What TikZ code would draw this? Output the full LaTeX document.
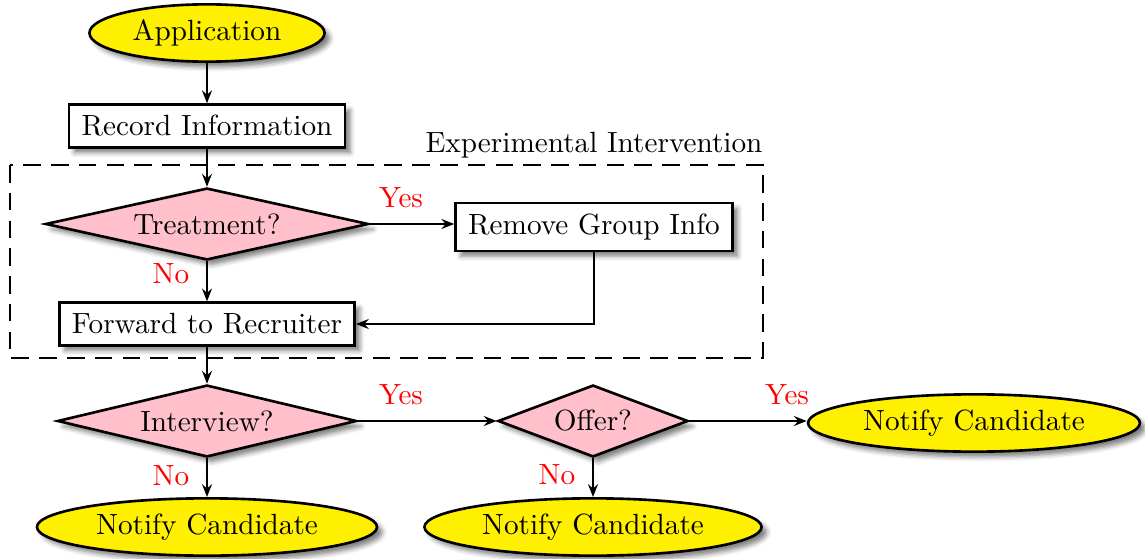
\documentclass[tikz,border=0pt]{standalone}
\usetikzlibrary{shapes.geometric,arrows.meta,shadows.blur}
\definecolor{pinkfill}{RGB}{255,192,203}
\definecolor{yellowfill}{RGB}{255,240,0}
\begin{document}
\begin{tikzpicture}[x=0.342pt,y=-0.342pt,
  shd/.style={blur shadow={shadow xshift=1.8pt,shadow yshift=-1.8pt,shadow blur radius=1.6pt,shadow opacity=50}},
  term/.style={ellipse,draw,line width=0.9pt,fill=yellowfill,inner sep=0pt,minimum height=19.6pt,shd},
  proc/.style={rectangle,draw,line width=0.9pt,fill=white,inner xsep=4.3pt,inner ysep=3.7pt,shd},
  dec/.style={diamond,draw,line width=0.9pt,fill=pinkfill,inner sep=1pt,minimum height=24.6pt,shd},
  conn/.style={line width=0.75pt,-{Stealth[length=4.4pt,width=3.4pt,inset=1.5pt]}},
  lbl/.style={text=red,inner sep=0pt},
  ebox/.style={line width=0.75pt,dash pattern=on 6pt off 3.5pt}]
\useasboundingbox (0,0) rectangle (1145,559);
\node[term,minimum width=80.4pt] (app) at (207,33) {Application};
\node[proc] (rec) at (207,126) {Record Information};
\node[dec,aspect=4.5,minimum width=110.5pt] (treat) at (207,224) {Treatment?};
\node[proc] (rem) at (594,227) {Remove Group Info};
\node[proc] (fwd) at (207,324) {Forward to Recruiter};
\node[dec,aspect=4.1,minimum width=102.3pt] (intv) at (207,421) {Interview?};
\node[dec,aspect=2.6,minimum width=65pt] (offer) at (593,421) {Offer?};
\node[term,minimum width=113.5pt] (nc3) at (974,423) {Notify Candidate};
\node[term,minimum width=116.3pt] (nc1) at (207,527) {Notify Candidate};
\node[term,minimum width=115.3pt] (nc2) at (593,527) {Notify Candidate};
\coordinate (eiA) at (10,165);
\coordinate (eiB) at (763,358);
\draw[ebox] (eiA) rectangle (eiB);
\node[anchor=south east,inner xsep=0pt,inner ysep=2pt] (eil) at (eiB |- eiA) {Experimental Intervention};
\draw[conn] (app) -- (rec);
\draw[conn] (rec) -- (treat);
\draw[conn] (treat.east) -- (rem.west |- treat.east);
\draw[conn] (treat) -- (fwd);
\draw[conn] (rem.south) |- (fwd.east);
\draw[conn] (fwd) -- (intv);
\draw[conn] (intv.east) -- (offer.west);
\draw[conn] (offer.east) -- (nc3.west |- offer.east);
\draw[conn] (intv) -- (nc1);
\draw[conn] (offer) -- (nc2);
\node[lbl] (y1) at (401,198) {Yes};
\node[lbl] (n1) at (171,274) {No};
\node[lbl] (y2) at (401,395) {Yes};
\node[lbl] (y3) at (787,395) {Yes};
\node[lbl] (n2) at (171,476) {No};
\node[lbl] (n3) at (557,475) {No};
\end{tikzpicture}
\end{document}
